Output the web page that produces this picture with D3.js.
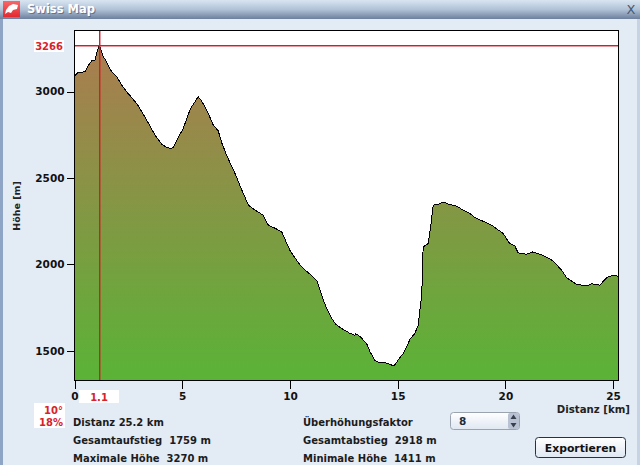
<!DOCTYPE html>
<html><head><meta charset="utf-8">
<script src="https://cdn.jsdelivr.net/npm/d3@7"></script>
<style>
html,body{margin:0;padding:0;background:#e3ebf5;overflow:hidden}
svg{display:block}
text{font-family:"DejaVu Sans",sans-serif;white-space:pre}
</style></head><body>
<svg id="c" width="640" height="465"></svg>
<script>
const distanceKm=[0.01,0.07,0.18,0.30,0.49,0.63,0.80,0.95,1.04,1.15,1.23,1.34,1.49,1.60,1.73,1.96,2.19,2.39,2.65,2.96,3.35,3.74,4.05,4.25,4.43,4.58,4.80,5.05,5.22,5.39,5.55,5.74,5.87,6.06,6.24,6.44,6.67,6.84,7.06,7.45,7.73,8.07,8.38,8.76,8.84,9.0,9.30,9.62,9.81,10.0,10.28,10.54,10.88,11.24,11.39,11.55,11.72,11.93,12.13,12.32,12.55,12.78,13.02,13.05,13.25,13.56,13.71,13.94,14.08,14.18,14.32,14.45,14.64,14.83,15.01,15.26,15.43,15.57,15.8,15.95,16.03,16.11,16.16,16.18,16.42,16.54,16.65,16.91,17.15,17.35,17.74,18.04,18.35,18.58,18.96,19.36,19.65,19.90,20.18,20.44,20.59,20.98,21.26,21.75,22.22,22.61,22.84,23.30,23.77,24.0,24.38,24.70,24.94,25.24];
const heightM=[3090,3098,3111,3110,3115,3148,3178,3182,3229,3266,3240,3201,3172,3142,3115,3086,3038,3003,2966,2918,2835,2748,2696,2679,2671,2675,2731,2787,2847,2903,2933,2970,2951,2912,2864,2806,2773,2702,2632,2526,2441,2343,2314,2285,2262,2227,2210,2188,2134,2082,2030,1986,1949,1908,1856,1793,1741,1689,1654,1636,1619,1602,1590,1600,1584,1542,1497,1445,1437,1431,1434,1431,1422,1413,1445,1486,1527,1567,1602,1648,1735,1812,1967,2101,2121,2227,2343,2349,2362,2349,2337,2314,2295,2272,2250,2227,2201,2179,2125,2107,2067,2059,2072,2053,2020,1967,1924,1885,1876,1889,1880,1924,1935,1933];
const xTicks=[0,5,10,15,20,25];
const yTicks=[1500,2000,2500,3000];
const markerKm=1.1, markerM=3266;
const statsLeft=["Distanz 25.2 km","Gesamtaufstieg  1759 m","Maximale Höhe  3270 m"];
const statsRight=["Überhöhungsfaktor","Gesamtabstieg  2918 m","Minimale Höhe  1411 m"];

const svg=d3.select("#c");
const L=74.5,R=618.5,T=30.5,B=380.5;
const x=d3.scaleLinear().domain([0,25.25]).range([L,R]);
const y=d3.scaleLinear().domain([1329,3353]).range([B,T]);
const defs=svg.append("defs");
const tb=defs.append("linearGradient").attr("id","tb").attr("x1",0).attr("y1",0).attr("x2",0).attr("y2",1);
tb.append("stop").attr("offset",0).attr("stop-color","#d9e5f1");
tb.append("stop").attr("offset",.5).attr("stop-color","#b0c2d8");
tb.append("stop").attr("offset",1).attr("stop-color","#6c7f9c");
const fg=defs.append("linearGradient").attr("id","fg").attr("gradientUnits","userSpaceOnUse").attr("x1",0).attr("y1",y(3266)).attr("x2",0).attr("y2",B);
fg.append("stop").attr("offset",0).attr("stop-color","#ab7c50");
fg.append("stop").attr("offset",1).attr("stop-color","#5ab337");
const bg=defs.append("linearGradient").attr("id","bg").attr("x1",0).attr("y1",0).attr("x2",0).attr("y2",1);
bg.append("stop").attr("offset",0).attr("stop-color","#ffffff");
bg.append("stop").attr("offset",1).attr("stop-color","#dfe7f1");
const ic=defs.append("linearGradient").attr("id","ic").attr("x1",0).attr("y1",0).attr("x2",0).attr("y2",1);
ic.append("stop").attr("offset",0).attr("stop-color","#f7686a");
ic.append("stop").attr("offset",1).attr("stop-color","#e32a30");

// window chrome
svg.append("rect").attr("width",640).attr("height",465).attr("fill","#e3ebf5");
svg.append("rect").attr("x",0).attr("y",18).attr("width",3).attr("height",447).attr("fill","#8ea5c6");
svg.append("rect").attr("x",637).attr("y",18).attr("width",3).attr("height",447).attr("fill","#c6d3e4");
svg.append("rect").attr("width",640).attr("height",19).attr("fill","url(#tb)");
svg.append("rect").attr("x",3).attr("y",1).attr("width",17).attr("height",16).attr("fill","url(#ic)");
svg.append("path").attr("d","M5 14 L6 10 L9 6 L13 4 L18 5 L17 9 L13 10 L11 13 L8 12 Z").attr("fill","#fff");
svg.append("text").attr("x",28).attr("y",14).attr("font-size",11.5).attr("font-weight","bold").attr("fill","#4f5f76").attr("opacity",.7).text("Swiss Map");
svg.append("text").attr("x",27).attr("y",13).attr("font-size",11.5).attr("font-weight","bold").attr("fill","#fff").text("Swiss Map");
svg.append("text").attr("x",631).attr("y",14).attr("text-anchor","middle").attr("font-size",13).attr("fill","#4a5a70").text("X");

// plot
svg.append("rect").attr("x",L).attr("y",T).attr("width",R-L).attr("height",B-T).attr("fill","#fff");
const pts=distanceKm.map((d,i)=>[d,heightM[i]]);
svg.append("path").datum(pts).attr("fill","url(#fg)")
  .attr("d",d3.area().x(d=>x(d[0])).y0(B).y1(d=>y(d[1])));
svg.append("path").datum(pts).attr("fill","none").attr("stroke","#000").attr("stroke-width",1).attr("shape-rendering","crispEdges")
  .attr("d",d3.line().x(d=>x(d[0])).y(d=>y(d[1])));
const my=Math.floor(y(markerM)), mx=Math.ceil(x(markerKm));
svg.append("rect").attr("class","marker").attr("x",L).attr("width",R-L).attr("y",my).attr("height",1.45).attr("fill","#d01f28");
svg.append("rect").attr("class","marker").attr("x",mx).attr("width",1.45).attr("y",T).attr("height",B-T).attr("fill","#d01f28");
svg.append("rect").attr("x",L).attr("y",T).attr("width",R-L).attr("height",B-T).attr("fill","none").attr("stroke","#000").attr("shape-rendering","crispEdges");

// axes
const ax=svg.append("g").attr("transform",`translate(0,${B})`).call(d3.axisBottom(x).tickValues(xTicks).tickSize(8).tickSizeOuter(0).tickPadding(4));
const ay=svg.append("g").attr("transform",`translate(${L},0)`).call(d3.axisLeft(y).tickValues(yTicks).tickSize(8).tickSizeOuter(0).tickFormat(d3.format("d")).tickPadding(2));
[ax,ay].forEach(a=>{a.select(".domain").remove();a.selectAll("line").attr("stroke","#000").attr("shape-rendering","crispEdges");
 a.selectAll("text").attr("font-size",10.5).attr("font-weight","bold").attr("fill","#111").style("font-family",'"DejaVu Sans",sans-serif');});

svg.append("text").attr("transform","translate(20,206) rotate(-90)").attr("text-anchor","middle").attr("font-size",9.5).attr("font-weight","bold").attr("fill","#222").text("Höhe [m]");
svg.append("text").attr("x",630).attr("y",413).attr("text-anchor","end").attr("font-size",10.2).attr("font-weight","bold").attr("fill","#222").text("Distanz [km]");

// red labels
const red="#d8232a";
svg.append("rect").attr("x",34).attr("y",40).attr("width",30).attr("height",12).attr("fill","#fff");
svg.append("text").attr("x",63).attr("y",50).attr("text-anchor","end").attr("font-size",10).attr("font-weight","bold").attr("fill",red).text(String(markerM));
svg.append("rect").attr("x",79).attr("y",390).attr("width",40).attr("height",13).attr("fill","#fff");
svg.append("text").attr("x",mx).attr("y",401).attr("text-anchor","middle").attr("font-size",10).attr("font-weight","bold").attr("fill",red).text(String(markerKm));
svg.append("rect").attr("x",34).attr("y",403).attr("width",31).attr("height",25).attr("fill","#fff");
svg.append("text").attr("x",63).attr("y",414).attr("text-anchor","end").attr("font-size",10).attr("font-weight","bold").attr("fill",red).text("10°");
svg.append("text").attr("x",63).attr("y",426).attr("text-anchor","end").attr("font-size",10).attr("font-weight","bold").attr("fill",red).text("18%");

// stats
const rows=[426,444,462];
statsLeft.forEach((s,i)=>svg.append("text").attr("x",73).attr("y",rows[i]).attr("font-size",10).attr("font-weight","bold").attr("fill","#1c1c1c").text(s));
statsRight.forEach((s,i)=>svg.append("text").attr("x",303).attr("y",rows[i]).attr("font-size",10).attr("font-weight","bold").attr("fill","#1c1c1c").text(s));

// spinner
svg.append("rect").attr("x",450.5).attr("y",412.5).attr("width",69).attr("height",17).attr("rx",3).attr("fill","url(#bg)").attr("stroke","#9aa3ae");
svg.append("rect").attr("x",508).attr("y",413).attr("width",11).attr("height",16).attr("rx",2).attr("fill","#b9c2d2");
svg.append("path").attr("d","M513.5 414.5 L516.5 419 L510.5 419 Z M513.5 427.5 L516.5 423 L510.5 423 Z").attr("fill","#39414f");
svg.append("text").attr("x",459).attr("y",425).attr("font-size",10.5).attr("font-weight","bold").attr("fill","#1c2b3a").text("8");

// button
svg.append("rect").attr("x",535.5).attr("y",437.5).attr("width",90).attr("height",20).attr("rx",3).attr("fill","url(#bg)").attr("stroke","#23334a");
svg.append("text").attr("x",580.5).attr("y",451.5).attr("text-anchor","middle").attr("font-size",10.8).attr("font-weight","bold").attr("fill","#111").text("Exportieren");
</script>
</body></html>
